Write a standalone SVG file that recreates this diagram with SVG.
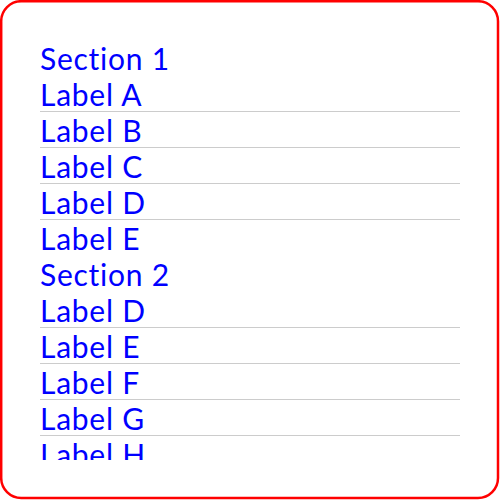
<svg xmlns="http://www.w3.org/2000/svg" width="500" height="500" viewBox="0 0 500 500">
  <defs>
    <clipPath id="listClip">
      <rect x="40" y="39" width="420" height="421"/>
    </clipPath>
  </defs>
  <style>
    .frame { fill: #ffffff; stroke: #ff0000; stroke-width: 2.5; }
    .label { font-family: Lato, "Liberation Sans", sans-serif; font-size: 30px; letter-spacing: 0.75px; fill: #0000ff; }
    .sep { stroke: #cccccc; stroke-width: 1; }
  </style>
  <rect class="frame" x="1.2" y="1.2" width="496.8" height="496.8" rx="20" ry="20"/>
  <g id="list" clip-path="url(#listClip)">
    <g id="connectors">
      <line class="sep" x1="40" y1="111.5" x2="460" y2="111.5"/>
      <line class="sep" x1="40" y1="147.5" x2="460" y2="147.5"/>
      <line class="sep" x1="40" y1="183.5" x2="460" y2="183.5"/>
      <line class="sep" x1="40" y1="219.5" x2="460" y2="219.5"/>
      <line class="sep" x1="40" y1="327.5" x2="460" y2="327.5"/>
      <line class="sep" x1="40" y1="363.5" x2="460" y2="363.5"/>
      <line class="sep" x1="40" y1="399.5" x2="460" y2="399.5"/>
      <line class="sep" x1="40" y1="435.5" x2="460" y2="435.5"/>
    </g>
    <g id="section1"><text class="label" x="40" y="70">Section 1</text></g>
    <g id="s1-labelA"><text class="label" x="40" y="106">Label A</text></g>
    <g id="s1-labelB"><text class="label" x="40" y="142">Label B</text></g>
    <g id="s1-labelC"><text class="label" x="40" y="178">Label C</text></g>
    <g id="s1-labelD"><text class="label" x="40" y="214">Label D</text></g>
    <g id="s1-labelE"><text class="label" x="40" y="250">Label E</text></g>
    <g id="section2"><text class="label" x="40" y="286">Section 2</text></g>
    <g id="s2-labelD"><text class="label" x="40" y="322">Label D</text></g>
    <g id="s2-labelE"><text class="label" x="40" y="358">Label E</text></g>
    <g id="s2-labelF"><text class="label" x="40" y="394">Label F</text></g>
    <g id="s2-labelG"><text class="label" x="40" y="430">Label G</text></g>
    <g id="s2-labelH"><text class="label" x="40" y="466">Label H</text></g>
  </g>
</svg>
